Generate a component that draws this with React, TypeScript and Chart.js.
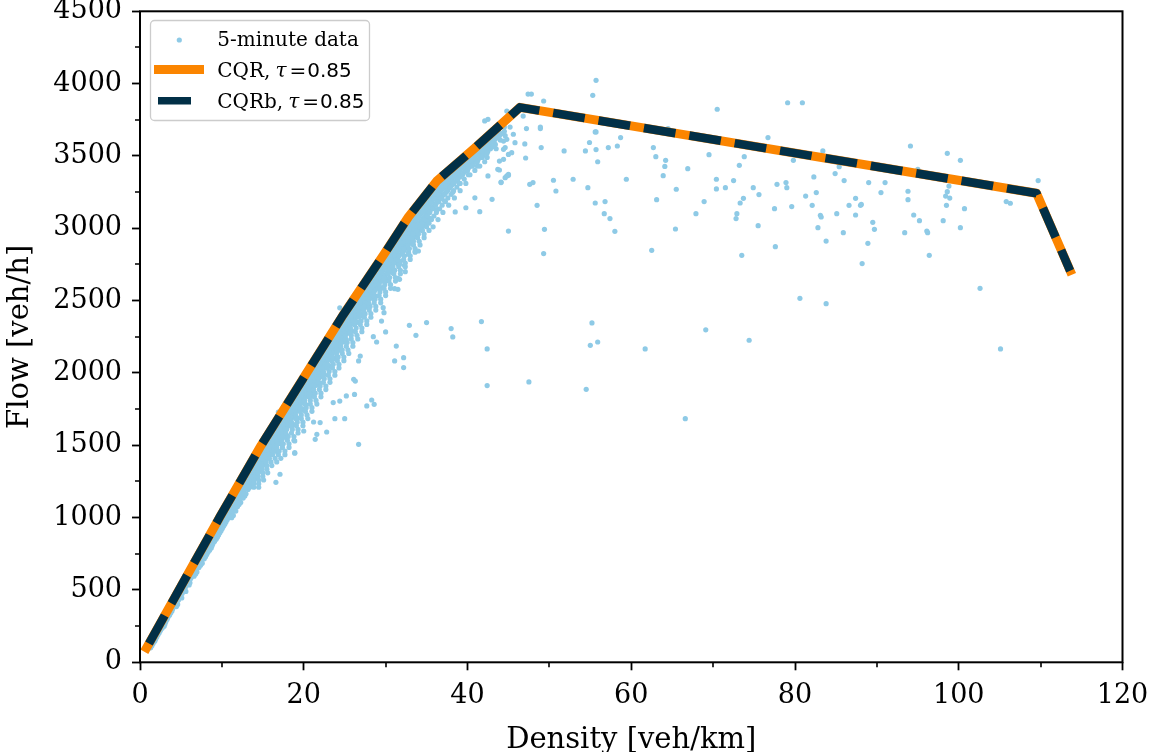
import { useEffect, useRef } from "react";
import { Chart, registerables } from "chart.js";

Chart.register(...registerables);

const xTickValues = [0, 20, 40, 60, 80, 100, 120];
const yTickValues = [0, 500, 1000, 1500, 2000, 2500, 3000, 3500, 4000, 4500];
const xMinorTicks = [10, 30, 50, 70, 90, 110];
const yMinorTicks = [250, 750, 1250, 1750, 2250, 2750, 3250, 3750, 4250];

const cqrDensity = [0.8, 9.8, 14.8, 19.8, 24.8, 29.8, 32.8, 36.3, 40.8, 46.4, 109.5, 113.6];
const cqrFlow = [100, 1010, 1500, 1950, 2400, 2820, 3080, 3330, 3550, 3836, 3242, 2707];
const cqrbDensity = [0.8, 9.8, 14.8, 19.8, 24.8, 29.8, 32.8, 36.3, 40.8, 46.4, 109.5, 113.6];
const cqrbFlow = [100, 1010, 1500, 1950, 2400, 2820, 3080, 3330, 3550, 3836, 3242, 2707];

// dense band of 5-minute observations: [flow, densities at that flow]
const bandRows: [number, number[]][] = [
  [100, [1.1, 1.3]], [130, [1.4, 1.6]], [160, [1.7, 1.9]], [190, [1.95, 2.2]],
  [220, [2.3, 2.5]], [250, [2.6, 2.8, 2.95]], [280, [2.9, 3.15]], [310, [3.2, 3.4]],
  [340, [3.5, 3.75]], [370, [3.8, 4.0]], [400, [4.1, 4.35, 4.6]], [430, [4.4, 4.7]],
  [460, [4.7, 4.95]], [490, [5.0, 5.3, 5.6]], [520, [5.3, 5.55]], [550, [5.6, 5.85, 6.1]],
  [580, [5.9, 6.2]], [610, [6.2, 6.45, 6.8]], [640, [6.5, 6.8]], [670, [6.8, 7.05, 7.4]],
  [700, [7.1, 7.35]], [730, [7.4, 7.7, 8.0]], [760, [7.7, 7.95, 8.3]], [790, [8.0, 8.3, 8.7]],
  [820, [8.3, 8.6, 8.9]], [850, [8.6, 8.9, 9.3]], [880, [8.9, 9.2, 9.6]], [910, [9.2, 9.5, 9.9]],
  [940, [9.5, 9.8, 10.2]], [970, [9.8, 10.1, 10.5]], [1000, [10.1, 10.4, 10.8, 11.2]],
  [1030, [10.4, 10.7, 11.1]], [1060, [10.7, 11.0, 11.4]], [1090, [11.0, 11.3, 11.7, 12.1]],
  [1120, [11.3, 11.6, 12.0]], [1150, [11.6, 11.9, 12.3, 12.8]], [1180, [11.9, 12.2, 12.6]],
  [1210, [12.2, 12.5, 12.9, 13.4]], [1240, [12.5, 12.8, 13.2, 13.8]], [1270, [12.8, 13.1, 13.5, 14.0]],
  [1300, [13.1, 13.4, 13.8, 14.3]], [1330, [13.4, 13.7, 14.1, 14.7]], [1360, [13.7, 14.0, 14.4, 15.0]],
  [1390, [14.0, 14.3, 14.8, 15.3]], [1420, [14.3, 14.7, 15.1, 15.6]], [1450, [14.6, 15.0, 15.4, 16.0, 16.8]],
  [1480, [15.0, 15.3, 15.7, 16.3]], [1510, [15.3, 15.6, 16.0, 16.6, 17.2]], [1540, [15.6, 16.0, 16.4, 16.9]],
  [1570, [15.9, 16.3, 16.7, 17.3, 17.9]], [1600, [16.2, 16.6, 17.0, 17.6]], [1630, [16.5, 16.9, 17.3, 17.9, 18.5]],
  [1660, [16.9, 17.3, 17.7, 18.2]], [1690, [17.2, 17.6, 18.0, 18.5, 19.2]], [1720, [17.5, 17.9, 18.3, 18.9]],
  [1750, [17.8, 18.2, 18.6, 19.2, 19.9]], [1780, [18.1, 18.5, 18.9, 19.5, 20.3]], [1810, [18.5, 18.9, 19.3, 19.9]],
  [1840, [18.8, 19.2, 19.6, 20.2, 21.0]], [1870, [19.1, 19.5, 19.9, 20.5, 21.2]], [1900, [19.4, 19.8, 20.2, 20.8]],
  [1930, [19.8, 20.2, 20.6, 21.2, 22.0]], [1960, [20.1, 20.5, 20.9, 21.5]], [1990, [20.4, 20.8, 21.2, 21.8, 22.5]],
  [2020, [20.8, 21.2, 21.6, 22.2]], [2050, [21.1, 21.5, 21.9, 22.5, 23.3]], [2080, [21.4, 21.8, 22.2, 22.8]],
  [2110, [21.8, 22.2, 22.6, 23.2, 24.0]], [2140, [22.1, 22.5, 22.9, 23.5]], [2170, [22.4, 22.8, 23.2, 23.8, 24.5]],
  [2200, [22.8, 23.2, 23.6, 24.2]], [2230, [23.1, 23.5, 23.9, 24.5, 25.2]], [2260, [23.5, 23.9, 24.3, 24.9]],
  [2290, [23.8, 24.2, 24.6, 25.2, 25.9]], [2320, [24.1, 24.5, 24.9, 25.5]], [2350, [24.5, 24.9, 25.3, 25.9, 26.6]],
  [2380, [24.8, 25.2, 25.6, 26.2]], [2410, [25.2, 25.6, 26.0, 26.6, 27.3]], [2440, [25.5, 25.9, 26.3, 26.9]],
  [2470, [25.9, 26.3, 26.7, 27.3, 28.0]], [2500, [26.3, 26.7, 27.1, 27.7]], [2530, [26.6, 27.0, 27.5, 28.1, 28.8]],
  [2560, [27.0, 27.4, 27.9, 28.5]], [2590, [27.3, 27.8, 28.3, 28.9, 29.6]], [2620, [27.7, 28.1, 28.6, 29.2]],
  [2650, [28.0, 28.5, 29.0, 29.6, 30.3]], [2680, [28.4, 28.9, 29.4, 30.0]], [2710, [28.8, 29.2, 29.7, 30.4, 31.1]],
  [2740, [29.1, 29.6, 30.1, 30.7]], [2770, [29.5, 30.0, 30.5, 31.1, 31.8]], [2800, [29.9, 30.4, 30.9, 31.5]],
  [2830, [30.3, 30.8, 31.3, 32.0]], [2860, [30.7, 31.2, 31.7, 32.4]], [2890, [31.0, 31.5, 32.1, 32.8]],
  [2920, [31.4, 31.9, 32.5, 33.2]], [2950, [31.8, 32.3, 32.9, 33.6]], [2980, [32.2, 32.7, 33.3, 34.0]],
  [3010, [32.6, 33.1, 33.7, 34.5]], [3040, [33.0, 33.5, 34.1, 34.9]], [3070, [33.4, 33.9, 34.6, 35.4]],
  [3100, [33.8, 34.3, 35.0]], [3130, [34.2, 34.8, 35.5, 36.3]], [3160, [34.7, 35.3, 36.0]],
  [3190, [35.1, 35.7, 36.4, 37.2]], [3220, [35.6, 36.2, 36.9]], [3250, [36.0, 36.6, 37.4, 38.2]],
  [3280, [36.5, 37.1, 37.8]], [3310, [37.0, 37.6, 38.3, 39.1]], [3340, [37.4, 38.1, 38.8]],
  [3370, [38.0, 38.6, 39.3, 40.1]], [3400, [38.5, 39.1, 39.8]], [3430, [39.0, 39.7, 40.4, 41.2]],
  [3460, [39.6, 40.3, 41.0]], [3490, [40.2, 40.9, 41.6, 42.4]], [3520, [40.8, 41.5, 42.2]],
  [3550, [41.4, 42.1, 42.8, 43.5]], [3580, [42.0, 42.7, 43.4]], [3610, [42.6, 43.3, 44.0]],
  [3640, [43.2, 43.9, 44.6]], [3670, [43.8, 44.5]], [3700, [44.5, 45.2]],
];

// more band observations between the rows above
const bandRowsB: [number, number[]][] = [
  [115, [1.2, 1.45]], [145, [1.55, 1.8]], [175, [1.85, 2.05]], [205, [2.1, 2.35]],
  [235, [2.45, 2.7]], [265, [2.75, 3.05]], [295, [3.05, 3.3]], [325, [3.35, 3.6]],
  [355, [3.65, 3.9]], [385, [3.95, 4.2, 4.45]], [415, [4.25, 4.5]], [445, [4.55, 4.85, 5.1]],
  [475, [4.85, 5.15]], [505, [5.15, 5.45]], [535, [5.45, 5.7, 6.0]], [565, [5.75, 6.05]],
  [595, [6.05, 6.35, 6.6]], [625, [6.35, 6.65, 6.95]], [655, [6.65, 6.95, 7.2]], [685, [6.95, 7.25, 7.6]],
  [715, [7.25, 7.55, 7.85]], [745, [7.55, 7.85, 8.15]], [775, [7.85, 8.15, 8.5]], [805, [8.15, 8.45, 8.8]],
  [835, [8.45, 8.75, 9.1]], [865, [8.75, 9.05, 9.45]], [895, [9.05, 9.35, 9.75]], [925, [9.35, 9.65, 10.05]],
  [955, [9.65, 9.95, 10.35]], [985, [9.95, 10.25, 10.65]], [1015, [10.25, 10.55, 10.95, 11.4]],
  [1045, [10.55, 10.85, 11.25, 11.7]], [1075, [10.85, 11.15, 11.55, 11.9]], [1105, [11.15, 11.45, 11.85, 12.3]],
  [1135, [11.45, 11.75, 12.15, 12.6]], [1165, [11.75, 12.05, 12.45, 12.95]], [1195, [12.05, 12.35, 12.75, 13.2]],
  [1225, [12.35, 12.65, 13.05, 13.6]], [1255, [12.65, 12.95, 13.35, 13.9]], [1285, [12.95, 13.25, 13.65, 14.15]],
  [1315, [13.25, 13.55, 13.95, 14.5]], [1345, [13.55, 13.85, 14.25, 14.85]], [1375, [13.85, 14.15, 14.6, 15.15]],
  [1405, [14.15, 14.5, 14.95, 15.45]], [1435, [14.45, 14.85, 15.25, 15.8]], [1465, [14.8, 15.15, 15.55, 16.15, 16.6]],
  [1495, [15.15, 15.45, 15.85, 16.45]], [1525, [15.45, 15.8, 16.2, 16.75]], [1555, [15.75, 16.15, 16.55, 17.1, 17.6]],
  [1585, [16.05, 16.45, 16.85, 17.45]], [1615, [16.35, 16.75, 17.15, 17.75]], [1645, [16.7, 17.1, 17.5, 18.05, 18.7]],
  [1675, [17.05, 17.45, 17.85, 18.35]], [1705, [17.35, 17.75, 18.15, 18.7]], [1735, [17.65, 18.05, 18.45, 19.05, 19.6]],
  [1765, [17.95, 18.35, 18.75, 19.35]], [1795, [18.3, 18.7, 19.1, 19.7, 20.1]], [1825, [18.65, 19.05, 19.45, 20.05]],
  [1855, [18.95, 19.35, 19.75, 20.35, 20.8]], [1885, [19.25, 19.65, 20.05, 20.65]], [1915, [19.6, 20.0, 20.4, 21.0, 21.6]],
  [1945, [19.95, 20.35, 20.75, 21.35]], [1975, [20.25, 20.65, 21.05, 21.65, 22.2]], [2005, [20.6, 21.0, 21.4, 22.0]],
  [2035, [20.95, 21.35, 21.75, 22.35, 22.9]], [2065, [21.25, 21.65, 22.05, 22.65]], [2095, [21.6, 22.0, 22.4, 23.0, 23.6]],
  [2125, [21.95, 22.35, 22.75, 23.35]], [2155, [22.25, 22.65, 23.05, 23.65, 24.2]], [2185, [22.6, 23.0, 23.4, 24.0]],
  [2215, [22.95, 23.35, 23.75, 24.35, 24.9]], [2245, [23.3, 23.7, 24.1, 24.7]], [2275, [23.65, 24.05, 24.45, 25.05, 25.6]],
  [2305, [23.95, 24.35, 24.75, 25.35]], [2335, [24.3, 24.7, 25.1, 25.7, 26.2]], [2365, [24.65, 25.05, 25.45, 26.05]],
  [2395, [25.0, 25.4, 25.8, 26.4, 27.0]], [2425, [25.35, 25.75, 26.15, 26.75]], [2455, [25.7, 26.1, 26.5, 27.1, 27.7]],
  [2485, [26.1, 26.5, 26.9, 27.5]], [2515, [26.45, 26.85, 27.3, 27.9, 28.5]], [2545, [26.8, 27.2, 27.7, 28.3]],
  [2575, [27.15, 27.6, 28.1, 28.7, 29.3]], [2605, [27.5, 27.95, 28.45, 29.05]], [2635, [27.85, 28.3, 28.8, 29.4, 30.0]],
  [2665, [28.2, 28.7, 29.2, 29.8]], [2695, [28.6, 29.05, 29.55, 30.2, 30.8]], [2725, [28.95, 29.4, 29.9, 30.55]],
  [2755, [29.3, 29.8, 30.3, 30.9, 31.5]], [2785, [29.7, 30.2, 30.7, 31.3]], [2815, [30.1, 30.6, 31.1, 31.7]],
  [2845, [30.5, 31.0, 31.5, 32.2]], [2875, [30.85, 31.35, 31.9, 32.6]], [2905, [31.2, 31.7, 32.3, 33.0]],
  [2935, [31.6, 32.1, 32.7, 33.4]], [2965, [32.0, 32.5, 33.1, 33.8]], [2995, [32.4, 32.9, 33.5, 34.2]],
  [3025, [32.8, 33.3, 33.9, 34.7]], [3055, [33.2, 33.7, 34.4, 35.1]], [3085, [33.6, 34.1, 34.8]],
  [3115, [34.0, 34.55, 35.25]], [3145, [34.45, 35.05, 35.75]], [3175, [34.9, 35.5, 36.2]],
  [3205, [35.35, 35.95, 36.65]], [3235, [35.8, 36.4, 37.1]], [3265, [36.25, 36.85, 37.6]],
  [3295, [36.75, 37.35, 38.05]], [3325, [37.2, 37.85, 38.55]], [3355, [37.7, 38.35, 39.05]],
  [3385, [38.25, 38.85, 39.55]], [3415, [38.75, 39.4, 40.1]], [3445, [39.3, 40.0, 40.7]],
  [3475, [39.9, 40.6, 41.3]], [3505, [40.5, 41.2, 41.9]], [3535, [41.1, 41.8, 42.5]],
  [3565, [41.7, 42.4, 43.1]], [3595, [42.3, 43.0]], [3625, [42.9, 43.6]], [3655, [43.5, 44.2]],
];

// outer fringe of the band (lower-flow side of the cloud)
const bandRowsC: [number, number[]][] = [
  [1210, [13.3, 13.9, 14.5]], [1235, [13.9, 14.5]], [1260, [13.9, 14.5, 15.1]], [1285, [14.4, 15.0]],
  [1310, [14.4, 15.0, 15.6]], [1335, [14.9, 15.5]], [1360, [14.9, 15.5, 16.1]], [1385, [15.4, 16.0, 16.7]],
  [1410, [15.8, 16.5, 17.2]], [1435, [16.2, 16.9, 17.7]], [1460, [16.3, 17.0, 17.7]], [1485, [16.7, 17.4, 18.2]],
  [1510, [16.8, 17.5, 18.2]], [1535, [17.3, 18.0, 18.8]], [1560, [17.4, 18.1, 18.8]], [1585, [17.8, 18.5, 19.3]],
  [1610, [17.9, 18.6, 19.3]], [1635, [18.4, 19.1, 19.9]], [1660, [18.5, 19.2, 19.9]], [1685, [19.0, 19.7, 20.5]],
  [1710, [19.0, 19.7, 20.4]], [1735, [19.5, 20.2, 21.0]], [1760, [19.6, 20.3, 21.0]], [1785, [20.1, 20.8, 21.6]],
  [1810, [20.1, 20.8, 21.5]], [1835, [20.6, 21.3, 22.1]], [1860, [20.7, 21.4, 22.1]], [1885, [21.2, 21.9, 22.7]],
  [1910, [21.3, 22.0, 22.7]], [1935, [21.7, 22.4, 23.2]], [1960, [21.8, 22.5, 23.2]], [1985, [22.3, 23.0, 23.8]],
  [2010, [22.4, 23.1, 23.8]], [2035, [22.8, 23.5, 24.3]], [2060, [22.9, 23.6, 24.3]], [2085, [23.4, 24.1, 24.9]],
  [2110, [23.5, 24.2, 24.9]], [2135, [24.0, 24.7, 25.5]], [2160, [24.0, 24.7, 25.4]], [2185, [24.5, 25.2, 26.0]],
  [2210, [24.6, 25.3, 26.0]], [2235, [25.1, 25.8, 26.6]], [2260, [25.1, 25.8, 26.5]], [2285, [25.6, 26.3, 27.1]],
  [2310, [25.7, 26.4, 27.1]], [2335, [26.2, 26.9, 27.7]], [2360, [26.3, 27.0, 27.7]], [2385, [26.7, 27.4, 28.2]],
  [2410, [26.8, 27.5, 28.2]], [2435, [27.3, 28.0, 28.8]], [2460, [27.4, 28.1, 28.8]], [2485, [27.9, 28.6, 29.4]],
  [2510, [28.0, 28.7, 29.4]], [2535, [28.5, 29.2, 30.0]], [2560, [28.6, 29.3, 30.0]], [2585, [29.1, 29.8, 30.6]],
  [2610, [29.2, 29.9, 30.6]], [2635, [29.7, 30.4, 31.2]], [2660, [29.8, 30.5, 31.2]], [2685, [30.3, 31.0, 31.8]],
  [2710, [30.4, 31.1, 31.8]], [2735, [30.9, 31.6, 32.4]], [2760, [31.0, 31.7, 32.4]], [2785, [31.5, 32.2, 33.0]],
  [2810, [31.6, 32.3, 33.0]], [2835, [32.1, 32.8, 33.6]], [2860, [32.2, 32.9, 33.6]], [2885, [32.7, 33.4, 34.2]],
  [2910, [32.7, 33.4, 34.1]], [2935, [33.2, 33.9, 34.7]], [2960, [33.3, 34.0, 34.7]], [2985, [33.8, 34.5, 35.3]],
  [3010, [34.2, 35.0, 35.8]], [3035, [34.5, 35.3]], [3060, [34.8, 35.6, 36.4]], [3085, [35.1, 35.9]],
  [3110, [35.4, 36.2, 37.0]], [3135, [35.8, 36.6]], [3160, [36.1, 36.9, 37.7]], [3185, [36.5, 37.3]],
  [3210, [36.8, 37.6, 38.4]], [3235, [37.2, 38.0]], [3260, [37.5, 38.3, 39.1]], [3285, [37.9, 38.7]],
  [3310, [38.2, 39.0, 39.8]], [3340, [38.8, 39.6]], [3370, [39.4, 40.3]], [3400, [40.0, 40.9]],
  [3430, [40.6, 41.5]], [3460, [41.2, 42.1]], [3490, [41.8]], [3520, [42.4]],
];

// scattered observations: [density, flow]
const scatterPoints: [number, number][] = [
  [21.4, 1541], [21.6, 1576], [22.8, 1592], [23.8, 1684], [25.0, 1684], [22.0, 1657], [21.2, 1661],
  [18.9, 1449], [20.0, 1599], [18.9, 1530], [26.7, 1507], [26.1, 1956], [26.3, 1944], [25.2, 1841],
  [27.7, 1772], [28.3, 1813], [28.6, 1783], [23.6, 1795], [24.4, 1806], [26.2, 1852], [28.5, 2251],
  [28.9, 2214], [26.7, 2083], [26.9, 2117], [30.0, 2284], [31.3, 2186], [31.1, 2083], [32.2, 2106],
  [32.2, 2037], [32.9, 2329], [33.7, 2260], [35.0, 2348], [38.0, 2307], [38.2, 2249], [29.5, 2359],
  [41.7, 2355], [42.4, 2166], [42.4, 1913], [47.5, 1938], [54.5, 1887], [55.2, 2346], [55.0, 2191],
  [55.9, 2214], [61.7, 2166], [66.6, 1684], [69.1, 2298], [74.4, 2226], [80.6, 2516], [83.8, 2479],
  [102.6, 2585], [105.1, 2166], [18.9, 1445], [17.1, 1300], [16.6, 1244], [24.4, 2450], [16.9, 1730],
  [32.8, 2820], [33.6, 2843], [34.0, 2843], [32.3, 2744], [31.7, 2751], [32.4, 2700], [31.5, 2654],
  [31.7, 2647], [31.1, 2583], [31.5, 2578], [29.7, 2451], [29.8, 2417],
  [45.0, 2981], [49.4, 2993], [39.8, 3142], [40.9, 3211], [38.5, 3113], [43.7, 3408], [43.9, 3465],
  [42.5, 3362], [44.4, 3477], [45.0, 3511], [44.6, 3350], [45.0, 3366], [44.1, 3320], [45.6, 3650],
  [45.8, 3592], [44.4, 3603], [44.6, 3558], [46.8, 3776], [42.1, 3742], [42.5, 3753], [44.8, 3811],
  [43.0, 3200], [41.5, 3115], [44.1, 3316], [44.8, 3362], [45.0, 3373], [43.9, 3403], [45.4, 3523],
  [44.4, 3546], [44.8, 3615], [55.7, 4023],
  [47.4, 3928], [47.8, 3928], [49.3, 3880], [55.3, 3919], [70.5, 3823], [79.1, 3868], [80.9, 3868],
  [47.2, 3689], [48.9, 3700], [48.9, 3689], [55.6, 3666], [55.7, 3666], [64.5, 3689], [76.7, 3627],
  [83.4, 3535], [58.7, 3627], [47.0, 3583], [54.9, 3593], [49.0, 3558], [51.8, 3535], [54.4, 3535],
  [55.7, 3544], [57.2, 3558], [58.3, 3569], [62.7, 3558], [47.1, 3486], [55.9, 3460], [63.0, 3495],
  [64.2, 3470], [64.1, 3428], [63.9, 3364], [66.9, 3412], [69.5, 3509], [73.8, 3495], [73.2, 3435],
  [79.8, 3470], [82.3, 3355], [84.9, 3378], [85.4, 3426], [47.6, 3304], [48.0, 3316], [50.5, 3332],
  [50.8, 3258], [52.9, 3339], [54.7, 3281], [59.4, 3339], [65.5, 3270], [70.4, 3339], [70.4, 3272],
  [71.5, 3281], [72.5, 3330], [74.9, 3281], [75.6, 3233], [77.8, 3304], [78.9, 3316], [79.0, 3281],
  [81.3, 3223], [82.6, 3247], [82.1, 3159], [79.6, 3150], [77.5, 3136], [83.1, 3090], [83.2, 3078],
  [85.1, 3101], [82.8, 3004], [83.8, 2912], [77.6, 2873], [75.5, 3018], [73.7, 3207], [73.3, 3175],
  [72.9, 3101], [72.8, 3067], [68.9, 3185], [67.9, 3101], [63.1, 3198], [65.4, 2995], [73.5, 2813],
  [62.5, 2848], [58.0, 2979], [57.4, 3067], [56.7, 3101], [56.8, 3185], [55.6, 3175], [48.5, 3159],
  [49.3, 2825],
  [86.0, 3330], [86.6, 3159], [87.4, 3207], [88.0, 3159], [88.1, 3165], [87.4, 3092], [89.0, 3316],
  [89.5, 3041], [89.7, 2993], [88.9, 2896], [88.2, 2756], [90.5, 3247], [91.0, 3316], [93.4, 2970],
  [93.8, 3256], [93.8, 3198], [94.1, 3569], [94.5, 3092], [95.2, 3053], [95.0, 3408], [96.1, 2981],
  [96.2, 2970], [96.4, 2813], [98.1, 3053], [98.5, 3159], [98.4, 3223], [98.6, 3253], [98.8, 3292],
  [98.9, 3209], [98.6, 3518], [100.2, 3470], [100.7, 3136], [100.2, 3004], [105.8, 3185], [106.3, 3173],
  [109.7, 3330], [85.9, 2970],
];

const SCATTER_COLOR = "#8ECAE6";
const ORANGE = "#FB8500";
const NAVY = "#023047";
const SERIF = "'DejaVu Serif', serif";
const SANS = "'DejaVu Sans', sans-serif";

const decorPlugin = {
  id: "decor",
  afterDraw(chart: any) {
    const ctx: CanvasRenderingContext2D = chart.ctx;
    const { left, right, top, bottom } = chart.chartArea;
    const xs = chart.scales.x;
    const ys = chart.scales.y;
    ctx.save();
    // frame
    ctx.strokeStyle = "#000";
    ctx.lineWidth = 2;
    ctx.strokeRect(left, top, right - left, bottom - top);
    // minor ticks
    ctx.lineWidth = 1.6;
    ctx.beginPath();
    for (const v of xMinorTicks) {
      const px = Math.round(xs.getPixelForValue(v));
      ctx.moveTo(px, bottom);
      ctx.lineTo(px, bottom + 5);
    }
    for (const v of yMinorTicks) {
      const py = Math.round(ys.getPixelForValue(v));
      ctx.moveTo(left, py);
      ctx.lineTo(left - 5, py);
    }
    ctx.stroke();
    // axis titles
    ctx.fillStyle = "#000";
    ctx.font = `29px ${SERIF}`;
    ctx.textAlign = "center";
    ctx.textBaseline = "alphabetic";
    ctx.fillText("Density [veh/km]", (left + right) / 2, 748);
    ctx.save();
    ctx.translate(28, (top + bottom) / 2);
    ctx.rotate(-Math.PI / 2);
    ctx.fillText("Flow [veh/h]", 0, 0);
    ctx.restore();

    // legend
    ctx.beginPath();
    (ctx as any).roundRect(150.5, 20.5, 219, 100, 4);
    ctx.fillStyle = "rgba(255,255,255,0.8)";
    ctx.fill();
    ctx.strokeStyle = "#cccccc";
    ctx.lineWidth = 1.3;
    ctx.stroke();

    ctx.fillStyle = SCATTER_COLOR;
    ctx.beginPath();
    ctx.arc(179.3, 40, 2.6, 0, Math.PI * 2);
    ctx.fill();

    ctx.lineCap = "butt";
    ctx.strokeStyle = ORANGE;
    ctx.lineWidth = 9;
    ctx.beginPath();
    ctx.moveTo(154, 69.5);
    ctx.lineTo(204, 69.5);
    ctx.stroke();

    ctx.strokeStyle = NAVY;
    ctx.lineWidth = 7.5;
    ctx.beginPath();
    ctx.moveTo(158, 100.7);
    ctx.lineTo(191, 100.7);
    ctx.stroke();

    ctx.fillStyle = "#000";
    ctx.textAlign = "left";
    ctx.textBaseline = "alphabetic";
    ctx.font = `20px ${SERIF}`;
    ctx.fillText("5-minute data", 217.3, 46);

    const drawTau = (prefix: string, baseline: number) => {
      let x = 217.3;
      ctx.font = `20px ${SERIF}`;
      ctx.fillText(prefix, x, baseline);
      x += ctx.measureText(prefix).width + 5;
      ctx.font = `italic 20px ${SERIF}`;
      ctx.fillText("τ", x, baseline);
      x += ctx.measureText("τ").width + 3;
      ctx.font = `20px ${SANS}`;
      ctx.fillText("=", x, baseline);
      x += ctx.measureText("=").width + 1;
      ctx.fillText("0.85", x, baseline);
    };
    drawTau("CQR,", 76.7);
    drawTau("CQRb,", 108.3);
    ctx.restore();
  },
};

const zeroPadding = (scale: any) => {
  scale.paddingLeft = 0;
  scale.paddingRight = 0;
  scale.paddingTop = 0;
  scale.paddingBottom = 0;
};

export default function App() {
  const canvasRef = useRef<HTMLCanvasElement | null>(null);

  useEffect(() => {
    if (!canvasRef.current) return;
    const bandPoints: { x: number; y: number }[] = [];
    for (const [flow, dens] of [...bandRows, ...bandRowsB, ...bandRowsC]) {
      for (const d of dens) bandPoints.push({ x: d, y: flow });
    }
    const dataPoints = [
      ...bandPoints,
      ...scatterPoints.map(([d, f]) => ({ x: d, y: f })),
    ];
    const cqr = cqrDensity.map((d, i) => ({ x: d, y: cqrFlow[i] }));
    const cqrb = cqrbDensity.map((d, i) => ({ x: d, y: cqrbFlow[i] }));

    const tickFont = { family: SERIF, size: 27 };

    const chart = new Chart(canvasRef.current, {
      type: "scatter",
      data: {
        datasets: [
          {
            label: "5-minute data",
            data: dataPoints,
            backgroundColor: SCATTER_COLOR,
            borderWidth: 0,
            pointRadius: 2.6,
            order: 3,
          },
          {
            label: "CQR, τ = 0.85",
            data: cqr,
            showLine: true,
            borderColor: ORANGE,
            borderWidth: 9,
            borderCapStyle: "square",
            borderJoinStyle: "round",
            pointRadius: 0,
            tension: 0,
            order: 2,
          } as any,
          {
            label: "CQRb, τ = 0.85",
            data: cqrb,
            showLine: true,
            borderColor: NAVY,
            borderWidth: 8.5,
            borderDash: [32, 14],
            borderDashOffset: 41,
            borderCapStyle: "butt",
            borderJoinStyle: "round",
            pointRadius: 0,
            tension: 0,
            order: 1,
          } as any,
        ],
      },
      options: {
        animation: false,
        responsive: false,
        devicePixelRatio: 1,
        events: [],
        layout: { padding: { left: 0, right: 27.5, top: 11.3, bottom: 0 } },
        plugins: {
          legend: { display: false },
          tooltip: { enabled: false },
        },
        scales: {
          x: {
            type: "linear",
            min: 0,
            max: 120,
            afterFit: (scale: any) => {
              scale.height = 89.7;
              zeroPadding(scale);
            },
            afterBuildTicks: (scale: any) => {
              scale.ticks = xTickValues.map((v) => ({ value: v }));
            },
            ticks: {
              font: tickFont,
              color: "#000",
              padding: 9,
              maxRotation: 0,
              autoSkip: false,
              callback: (v: any) => String(v),
            },
            grid: {
              display: true,
              drawOnChartArea: false,
              drawTicks: true,
              tickLength: 8,
              tickWidth: 1.8,
              tickColor: "#000",
            },
            border: { display: false },
          },
          y: {
            type: "linear",
            min: 0,
            max: 4500,
            afterFit: (scale: any) => {
              scale.width = 140;
              zeroPadding(scale);
            },
            afterBuildTicks: (scale: any) => {
              scale.ticks = yTickValues.map((v) => ({ value: v }));
            },
            ticks: {
              font: tickFont,
              color: "#000",
              padding: 10,
              autoSkip: false,
              callback: (v: any) => String(v),
            },
            grid: {
              display: true,
              drawOnChartArea: false,
              drawTicks: true,
              tickLength: 8,
              tickWidth: 1.8,
              tickColor: "#000",
            },
            border: { display: false },
          },
        },
      },
      plugins: [decorPlugin],
    });
    return () => chart.destroy();
  }, []);

  return (
    <div
      style={{
        position: "fixed",
        left: 0,
        top: 0,
        width: 1150,
        height: 752,
        background: "#fff",
      }}
    >
      <canvas ref={canvasRef} width={1150} height={752} />
    </div>
  );
}
